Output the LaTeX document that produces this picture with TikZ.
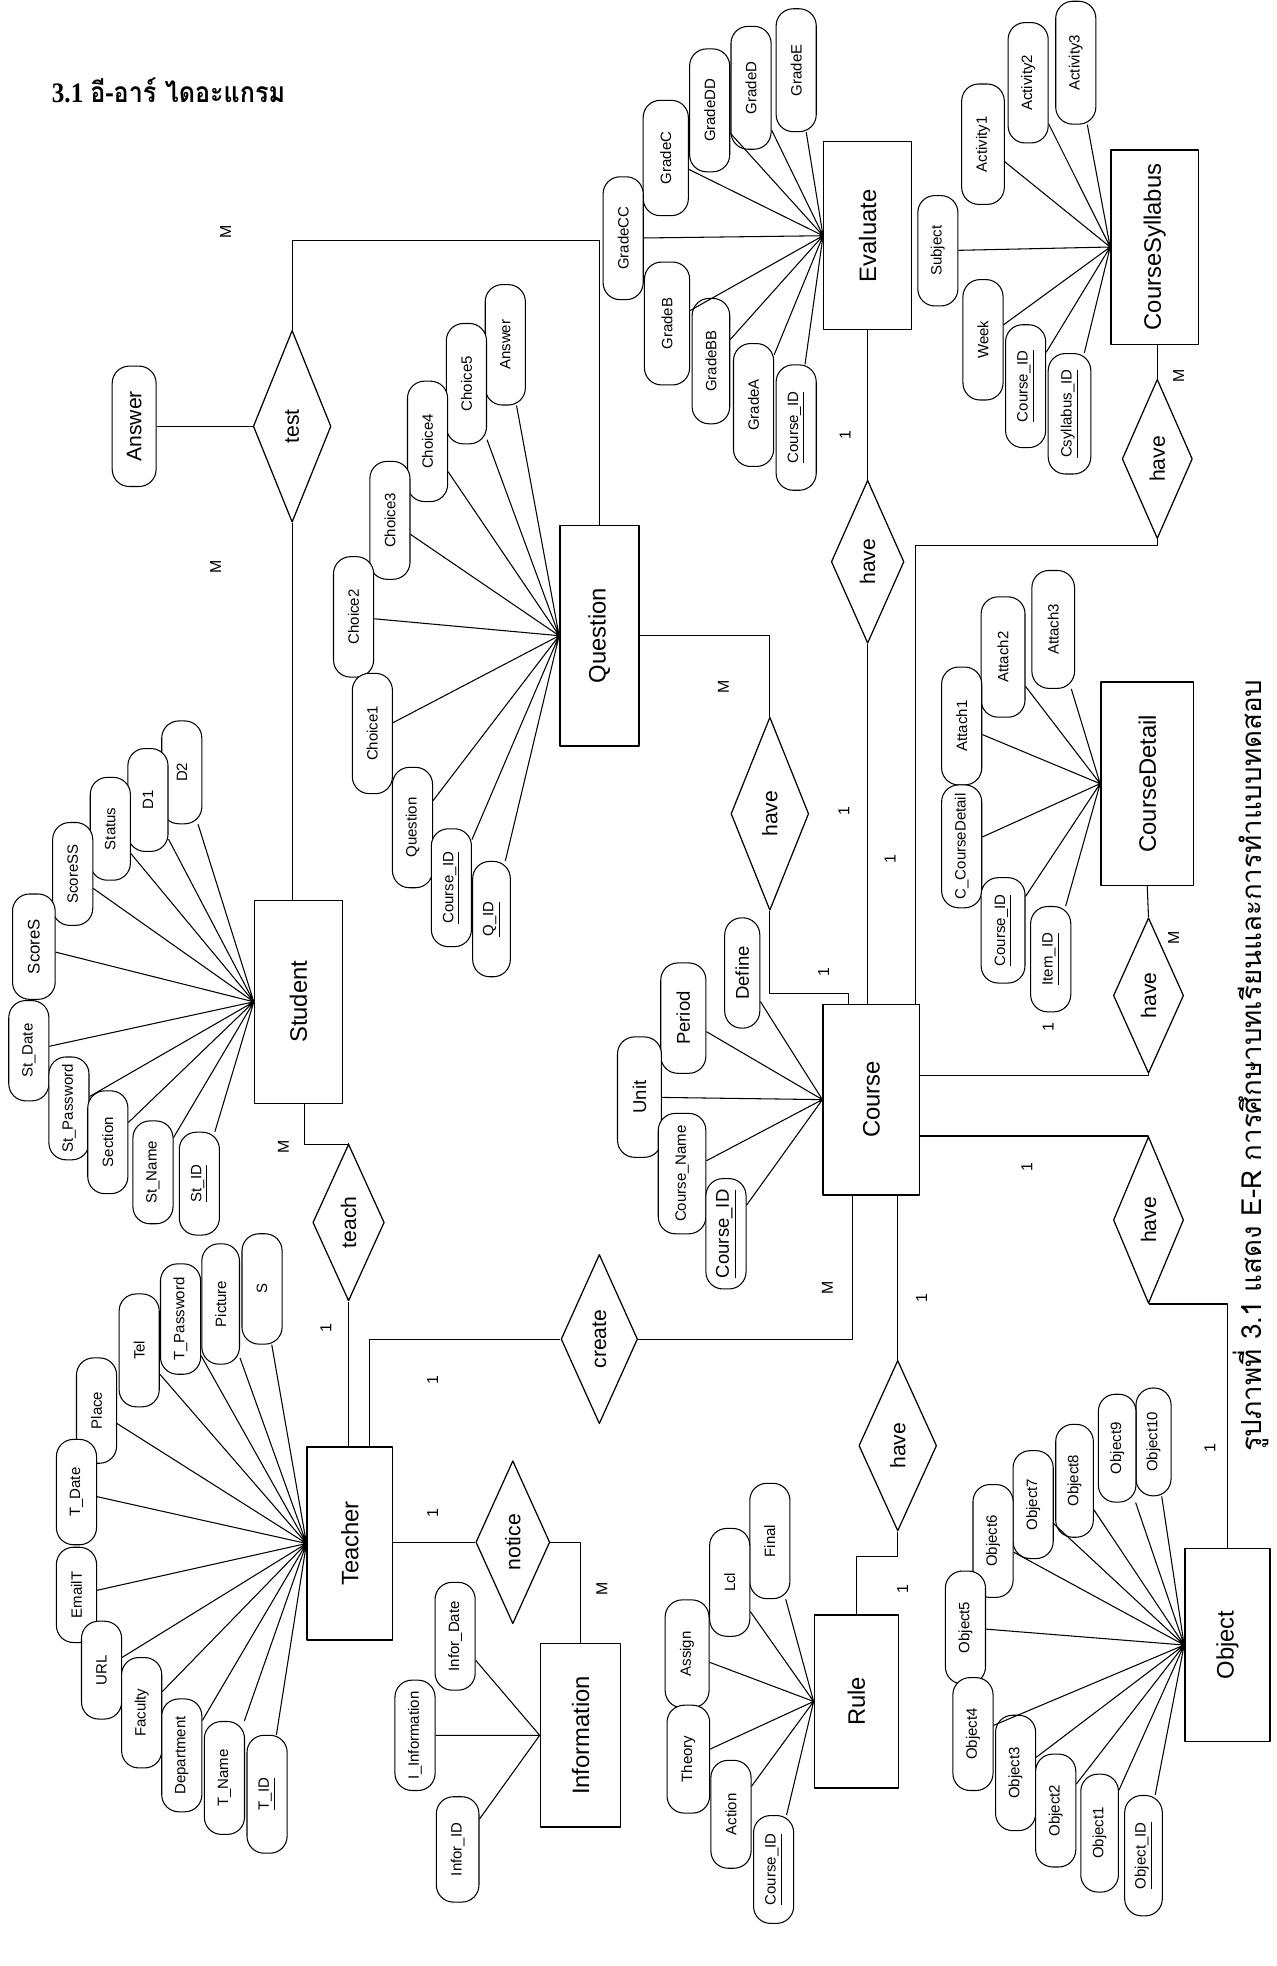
\documentclass[tikz,border=0pt]{standalone}
\usepackage{fontspec}
\setmainfont{Liberation Sans}
\newfontfamily\thaifont[Script=Thai]{Loma}
\newfontfamily\serifbf{Liberation Serif}
\usetikzlibrary{positioning, shapes.geometric, calc}
\tikzset{
  ent/.style={draw, rotate=90, font=\fontsize{13.5}{15}\selectfont, inner sep=2pt, line width=0.8pt},
  attr/.style={draw, fill=white, rounded corners=0.34cm, rotate=90, font=\fontsize{8.5}{10}\selectfont,
    minimum width=#1, minimum height=0.8cm, inner sep=1pt, line width=0.6pt},
  attr/.default=2.25cm,
  big/.style={font=\fontsize{10.5}{12}\selectfont},
  rel/.style={draw, diamond, rotate=90, font=\fontsize{12}{14}\selectfont, inner sep=0pt, line width=0.7pt},
  card/.style={rotate=90, font=\fontsize{9}{10}\selectfont, inner sep=0pt},
  ln/.style={line width=0.6pt}
}

\begin{document}
\begin{tikzpicture}[x=0.025cm, y=-0.025cm, line join=round]
  \path[use as bounding box, fill=white] (0,0) rectangle (1018,1568);

  % heading and caption
  \node[anchor=west, xscale=0.89, font=\fontsize{16}{19}\selectfont\bfseries] (ttl) at (37,72) {{\serifbf 3.1} {\thaifont อี-อาร์ ไดอะแกรม}};
  \node[rotate=90, font=\thaifont\fontsize{15.7}{18}\selectfont] (cap) at (998,850) {รูปภาพที่ 3.1 แสดง E-R การศึกษาบทเรียนและการทำแบบทดสอบ};

  % entities
  \node[ent, minimum width=4.05cm, minimum height=1.75cm] (stu) at (238,799) {Student};
  \node[ent, minimum width=3.85cm, minimum height=1.7cm] (tch) at (279,1231) {Teacher};
  \node[ent, minimum width=3.65cm, minimum height=1.6cm] (inf) at (463,1384) {Information};
  \node[ent, minimum width=4.4cm, minimum height=1.575cm] (que) at (478,507) {Question};
  \node[ent, minimum width=3.8cm, minimum height=1.925cm] (crs) at (695,877) {Course};
  \node[ent, minimum width=3.45cm, minimum height=1.675cm] (rul) at (683,1357) {Rule};
  \node[ent, minimum width=3.85cm, minimum height=1.7cm] (obj) at (979,1312) {Object};
  \node[ent, minimum width=3.75cm, minimum height=1.75cm] (eva) at (692,188) {Evaluate};
  \node[ent, minimum width=3.875cm, minimum height=1.75cm] (csy) at (921,197) {CourseSyllabus};
  \node[ent, minimum width=4.05cm, minimum height=1.85cm] (cdt) at (915,625) {CourseDetail};

  % relationships
  \node[rel, minimum width=3.825cm, minimum height=1.55cm] (test) at (233,340) {test};
  \node[rel, minimum width=3.125cm, minimum height=1.425cm] (teach) at (278,975) {teach};
  \node[rel, minimum width=3.375cm, minimum height=1.525cm] (crt) at (478,1068) {create};
  \node[rel, minimum width=3.25cm, minimum height=1.475cm] (ntc) at (409,1230) {notice};
  \node[rel, minimum width=3.4cm, minimum height=1.55cm] (hvR) at (716,1153) {have};
  \node[rel, minimum width=3.85cm, minimum height=1.55cm] (hvQ) at (614,649) {have};
  \node[rel, minimum width=3.25cm, minimum height=1.45cm] (hvE) at (692,448) {have};
  \node[rel, minimum width=3.175cm, minimum height=1.4cm] (hvS) at (923,366) {have};
  \node[rel, minimum width=3.1cm, minimum height=1.4cm] (hvD) at (916,794) {have};
  \node[rel, minimum width=3.325cm, minimum height=1.4cm] (hvO) at (916,973) {have};

  % relationship lines
  \draw[ln] (test.east) -- ++(0,-71) -| (que.east);
  \draw[ln] (test.west) -- (test.west |- stu.east);
  \draw[ln] ($(stu.west)+(5,0)$) -- ++(0,32) -| (teach.east);
  \draw[ln] (teach.west) -- (teach.west |- tch.east);
  \draw[ln] ($(tch.east)+(16,0)$) |- (crt.north);
  \draw[ln] (crt.south) -| ($(crs.west)+(-15,0)$);
  \draw[ln] (hvR.east) -- (hvR.east |- crs.west);
  \draw[ln] (hvR.west) -- ++(0,20) -| (rul.east);
  \draw[ln] (ntc.north) -- (ntc.north -| tch.south);
  \draw[ln] (ntc.south) -| (inf.east);
  \draw[ln] (que.south) -| (hvQ.east);
  \draw[ln] (hvQ.west) -- ++(0,66) -| ($(crs.east)+(-18,0)$);
  \draw[ln] (eva.west) -- (hvE.east);
  \draw[ln] (hvE.west) -- (hvE.west |- crs.east);
  \draw[ln] ($(crs.east)+(35,0)$) -- ++(0,-365) -| (hvS.west);
  \draw[ln] (hvS.east) -- (hvS.east |- csy.west);
  \draw[ln] (cdt.west) -- (hvD.east);
  \draw[ln] (hvD.west) |- ($(crs.south)+(0,-19)$);
  \draw[ln] ($(crs.south)+(0,29)$) -| (hvO.east);
  \draw[ln] (hvO.west) -| (obj.east);

  % cardinalities
  \node[card] (m1) at (180,185) {M};
  \node[card] (m2) at (172,452) {M};
  \node[card] (m3) at (226,915) {M};
  \node[card] (c1) at (260,1059) {1};
  \node[card] (c2) at (345,1101) {1};
  \node[card] (m4) at (660,1027) {M};
  \node[card] (c3) at (735,1035) {1};
  \node[card] (c4) at (720,1267) {1};
  \node[card] (c5) at (345,1207) {1};
  \node[card] (m5) at (480,1267) {M};
  \node[card] (m6) at (577,548) {M};
  \node[card] (c6) at (657,775) {1};
  \node[card] (c7) at (673,647) {1};
  \node[card] (c8) at (710,685) {1};
  \node[card] (c9) at (674,347) {1};
  \node[card] (m7) at (940,300) {M};
  \node[card] (m8) at (936,748) {M};
  \node[card] (c10) at (836,819) {1};
  \node[card] (c11) at (819,931) {1};
  \node[card] (c12) at (965,1155) {1};

  % test attribute
  \node[attr=2.4cm, minimum height=0.875cm, font=\fontsize{12}{14}\selectfont] (tan) at (107,340) {Answer};
  \draw[ln] (tan) -- (test);

  % Student attributes
  \node[attr=2.05cm] (sd2) at (145,616) {D2};
  \node[attr=2.05cm] (sd1) at (118,638) {D1};
  \node[attr=2.05cm] (sst) at (88,661) {Status};
  \node[attr=2.05cm] (sss) at (58,697) {ScoreSS};
  \node[attr=2.1cm, minimum height=0.85cm, font=\fontsize{9.5}{11}\selectfont] (ssc) at (27,755) {ScoreS};
  \node[attr=2.0cm] (sdt) at (23,838) {St\_Date};
  \node[attr=2.05cm] (spw) at (55,884) {St\_Password};
  \node[attr=2.05cm] (ssec) at (86,911) {Section};
  \node[attr=2.05cm] (snm) at (122,935) {St\_Name};
  \node[attr=2.05cm] (sid) at (159,944) {\underline{St\_ID}};
  \draw[ln] (stu.north) -- (sd2) (stu.north) -- (sd1) (stu.north) -- (sst) (stu.north) -- (sss)
    (stu.north) -- (ssc) (stu.north) -- (sdt) (stu.north) -- (spw) (stu.north) -- (ssec)
    (stu.north) -- (snm) (stu.north) -- (sid);

  % Question attributes
  \node[attr=2.4cm] (qan) at (403,275) {Answer};
  \node[attr=2.4cm] (qc5) at (372,306) {Choice5};
  \node[attr=2.4cm] (qc4) at (341,352) {Choice4};
  \node[attr=2.35cm] (qc3) at (311,415) {Choice3};
  \node[attr=2.4cm] (qc2) at (282,492) {Choice2};
  \node[attr=2.4cm] (qc1) at (297,585) {Choice1};
  \node[attr=2.4cm] (qqs) at (329,660) {Question};
  \node[attr=2.35cm] (qcid) at (360,708) {\underline{Course\_ID}};
  \node[attr=2.3cm, minimum height=0.75cm] (qid) at (392,733) {\underline{Q\_ID}};
  \draw[ln] (que.north) -- (qan) (que.north) -- (qc5) (que.north) -- (qc4) (que.north) -- (qc3)
    (que.north) -- (qc2) (que.north) -- (qc1) (que.north) -- (qqs) (que.north) -- (qcid)
    (que.north) -- (qid);

  % Evaluate attributes
  \node[attr=2.45cm] (ge) at (635,56) {GradeE};
  \node[attr=2.45cm] (gd) at (599,70) {GradeD};
  \node[attr=2.45cm] (gdd) at (566,88) {GradeDD};
  \node[attr=2.3cm, minimum height=0.9cm] (gc) at (531,126) {GradeC};
  \node[attr=2.45cm] (gcc) at (497,190) {GradeCC};
  \node[attr=2.45cm, minimum height=0.9cm] (gb) at (532,258) {GradeB};
  \node[attr=2.5cm, minimum height=0.75cm] (gbb) at (567,288) {GradeBB};
  \node[attr=2.45cm] (ga) at (601,323) {GradeA};
  \node[attr=2.5cm] (ecid) at (635,341) {\underline{Course\_ID}};
  \draw[ln] (eva.north) -- (ge) (eva.north) -- (gd) (eva.north) -- (gdd) (eva.north) -- (gc)
    (eva.north) -- (gcc) (eva.north) -- (gb) (eva.north) -- (gbb) (eva.north) -- (ga)
    (eva.north) -- (ecid);

  % CourseSyllabus attributes
  \node[attr=2.45cm] (ya3) at (858,50) {Activity3};
  \node[attr=2.4cm] (ya2) at (820,66) {Activity2};
  \node[attr=2.4cm, minimum height=0.85cm] (ya1) at (784,115) {Activity1};
  \node[attr=2.2cm] (ysb) at (748,200) {Subject};
  \node[attr=2.4cm] (ywk) at (784,271) {Week};
  \node[attr=2.45cm] (ycid) at (818,308) {\underline{Course\_ID}};
  \node[attr=2.4cm, minimum height=0.85cm] (ysid) at (853,330) {\underline{Csyllabus\_ID}};
  \draw[ln] (csy.north) -- (ya3) (csy.north) -- (ya2) (csy.north) -- (ya1) (csy.north) -- (ysb)
    (csy.north) -- (ywk) (csy.north) -- (ycid) (csy.north) -- (ysid);

  % Course attributes
  \node[attr=2.2cm, big, minimum height=0.7cm] (cdf) at (592,776) {Define};
  \node[attr=2.2cm, big, minimum height=0.9cm] (cpd) at (545,812) {Period};
  \node[attr=2.4cm, big, minimum height=0.875cm] (cun) at (510,875) {Unit};
  \node[attr=2.4cm, minimum height=0.95cm] (cnm) at (544,936) {Course\_Name};
  \node[attr=2.2cm, big] (ccid) at (579,984) {\underline{Course\_ID}};
  \draw[ln] (crs.north) -- (cdf) (crs.north) -- (cpd) (crs.north) -- (cun) (crs.north) -- (cnm)
    (crs.north) -- (ccid);

  % CourseDetail attributes
  \node[attr=2.35cm, minimum height=0.85cm] (da3) at (840,502) {Attach3};
  \node[attr=2.4cm, minimum height=0.875cm] (da2) at (800,524) {Attach2};
  \node[attr=2.35cm] (da1) at (767,579) {Attach1};
  \node[attr=2.45cm] (dcd) at (767,675) {C\_CourseDetail};
  \node[attr=2.1cm, minimum height=0.875cm] (dcid) at (800,742) {\underline{Course\_ID}};
  \node[attr=2.1cm] (dit) at (838,765) {\underline{Item\_ID}};
  \draw[ln] (cdt.north) -- (da3) (cdt.north) -- (da2) (cdt.north) -- (da1) (cdt.north) -- (dcd)
    (cdt.north) -- (dcid) (cdt.north) -- (dit);

  % Teacher attributes
  \node[attr=2.2cm] (ts) at (209,1028) {S};
  \node[attr=2.4cm, minimum height=0.75cm] (tpc) at (176,1040) {Picture};
  \node[attr=2.2cm] (tpw) at (144,1052) {T\_Password};
  \node[attr=2.25cm] (ttel) at (111,1077) {Tel};
  \node[attr=2.1cm] (tpl) at (77,1125) {Place};
  \node[attr=2.1cm] (tdt) at (61,1190) {T\_Date};
  \node[attr=1.9cm] (tem) at (61,1272) {EmailT};
  \node[attr=1.95cm] (turl) at (81,1332) {URL};
  \node[attr=2.2cm] (tfc) at (113,1366) {Faculty};
  \node[attr=2.25cm] (tdp) at (145,1400) {Department};
  \node[attr=2.25cm] (tnm) at (179,1418) {T\_Name};
  \node[attr=2.35cm] (tid) at (213,1431) {\underline{T\_ID}};
  \draw[ln] (tch.north) -- (ts) (tch.north) -- (tpc) (tch.north) -- (tpw) (tch.north) -- (ttel)
    (tch.north) -- (tpl) (tch.north) -- (tdt) (tch.north) -- (tem) (tch.north) -- (turl)
    (tch.north) -- (tfc) (tch.north) -- (tdp) (tch.north) -- (tnm) (tch.north) -- (tid);

  % Information attributes
  \node[attr=2.15cm] (idt) at (363,1305) {Infor\_Date};
  \node[attr=2.2cm] (iin) at (331,1384) {I\_Information};
  \node[attr=2.1cm, minimum height=0.85cm] (iid) at (365,1475) {Infor\_ID};
  \draw[ln] (inf.north) -- (idt) (inf.north) -- (iin) (inf.north) -- (iid);

  % Rule attributes
  \node[attr=2.3cm] (rfn) at (614,1229) {Final};
  \node[attr=2.15cm] (rlc) at (582,1262) {Lcl};
  \node[attr=2.15cm, minimum height=0.875cm] (ras) at (548,1319) {Assign};
  \node[attr=2.15cm, minimum height=0.85cm] (rth) at (549,1403) {Theory};
  \node[attr=2.15cm] (rac) at (583,1447) {Action};
  \node[attr=2.15cm] (rcid) at (617,1491) {\underline{Course\_ID}};
  \draw[ln] (rul.north) -- (rfn) (rul.north) -- (rlc) (rul.north) -- (ras) (rul.north) -- (rth)
    (rul.north) -- (rac) (rul.north) -- (rcid);

  % Object attributes
  \node[attr=2.15cm, minimum height=0.7cm] (o10) at (920,1150) {Object10};
  \node[attr=2.15cm, minimum height=0.75cm] (o9) at (891,1155) {Object9};
  \node[attr=2.25cm, minimum height=0.75cm] (o8) at (857,1181) {Object8};
  \node[attr=2.15cm] (o7) at (824,1200) {Object7};
  \node[attr=2.25cm] (o6) at (792,1229) {Object6};
  \node[attr=2.25cm] (o5) at (770,1298) {Object5};
  \node[attr=2.25cm] (o4) at (776,1383) {Object4};
  \node[attr=2.3cm] (o3) at (810,1414) {Object3};
  \node[attr=2.25cm] (o2) at (842,1444) {Object2};
  \node[attr=2.35cm, minimum height=0.75cm] (o1) at (877,1462) {Object1};
  \node[attr=2.4cm, minimum height=0.75cm] (oid) at (912,1480) {\underline{Object\_ID}};
  \draw[ln] (obj.north) -- (o10) (obj.north) -- (o9) (obj.north) -- (o8) (obj.north) -- (o7)
    (obj.north) -- (o6) (obj.north) -- (o5) (obj.north) -- (o4) (obj.north) -- (o3)
    (obj.north) -- (o2) (obj.north) -- (o1) (obj.north) -- (oid);
\end{tikzpicture}
\end{document}
